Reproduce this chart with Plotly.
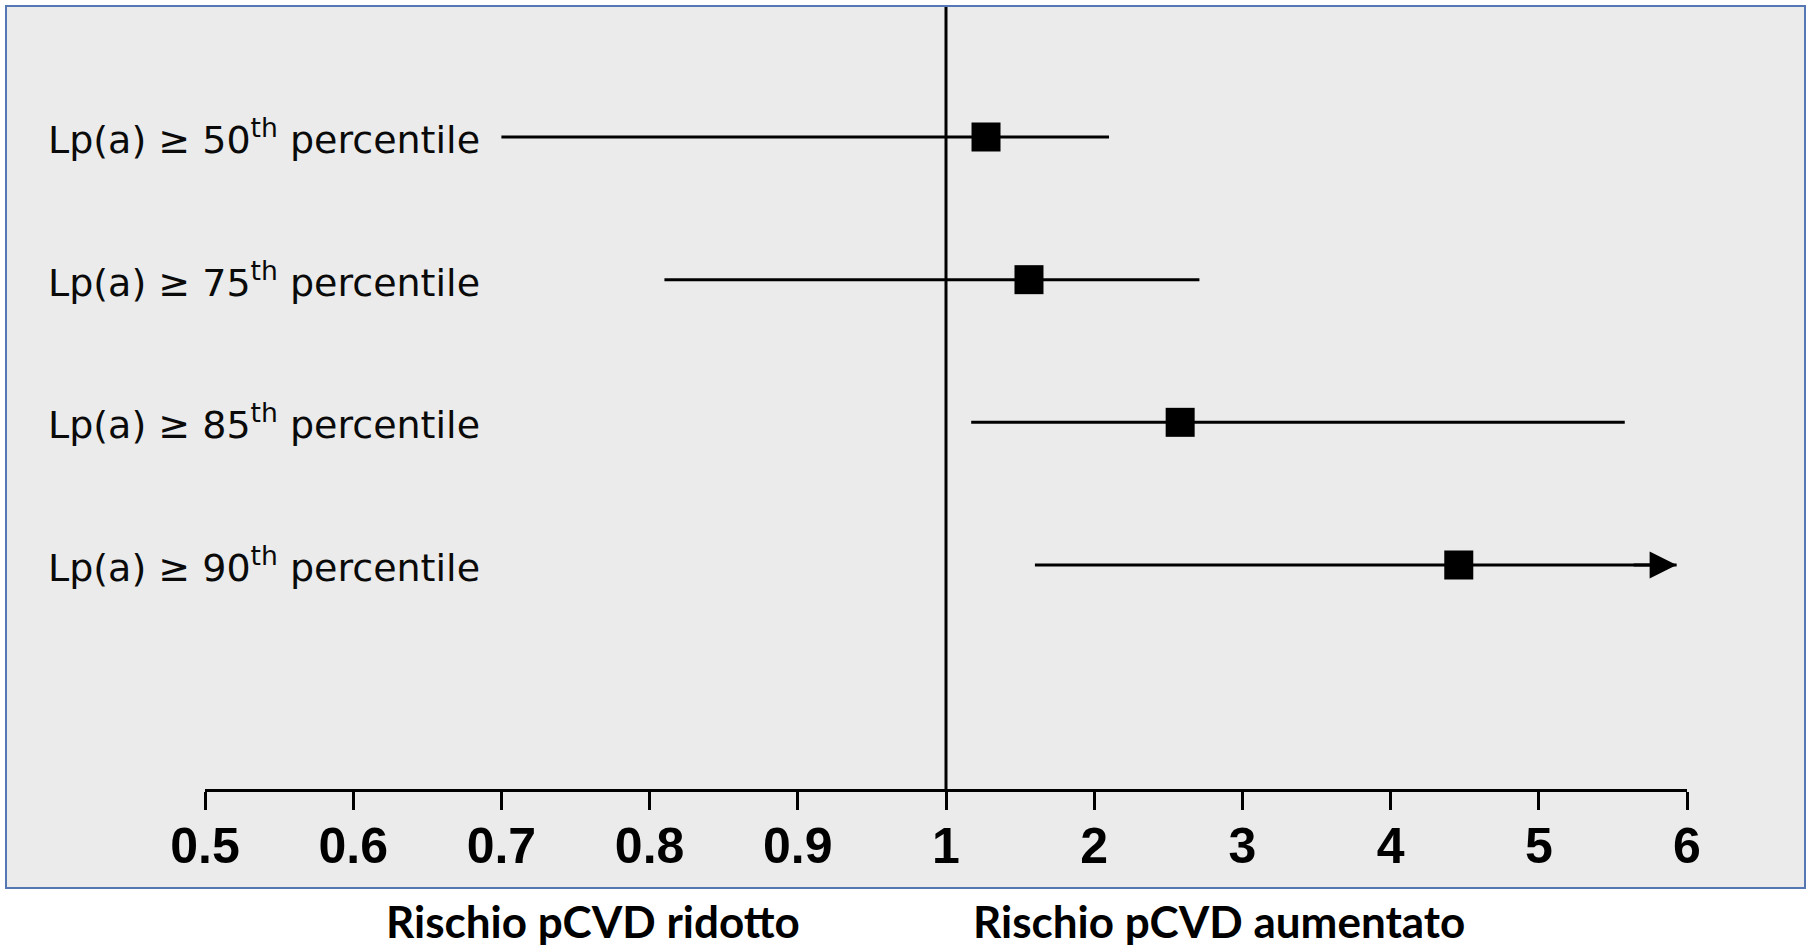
import plotly.graph_objects as go

# ---------------- data ----------------
row_labels = [
    "Lp(a) ≥ 50<sup>th</sup> percentile",
    "Lp(a) ≥ 75<sup>th</sup> percentile",
    "Lp(a) ≥ 85<sup>th</sup> percentile",
    "Lp(a) ≥ 90<sup>th</sup> percentile",
]
odds_ratio = [1.27, 1.56, 2.58, 4.46]
ci_lower = [0.70, 0.81, 1.17, 1.60]
ci_upper = [2.10, 2.71, 5.58, 5.93]
ci_open_ended = [False, False, False, True]

tick_values = [0.5, 0.6, 0.7, 0.8, 0.9, 1, 2, 3, 4, 5, 6]
tick_labels = ["0.5", "0.6", "0.7", "0.8", "0.9", "1", "2", "3", "4", "5", "6"]

bottom_left_text = "Rischio pCVD ridotto"
bottom_right_text = "Rischio pCVD aumentato"

# ---------------- layout constants ----------------
W, H = 1812, 947
ML, MR, MT, MB = 205, 125, 6, 158
PW = W - ML - MR
PH = H - MT - MB


def axis_pos(v):
    """Piecewise axis: 0.5..1 in steps of 0.1, then 1..6 in steps of 1 (equal spacing)."""
    if v <= 1:
        return (v - 0.5) / 0.1
    return 5 + (v - 1)


def px_x(p):
    return (p - ML) / PW


def px_y(p):
    return (H - MB - p) / PH


n = len(row_labels)
row_y = [n - i for i in range(n)]  # 4,3,2,1 top to bottom

pt = [axis_pos(v) for v in odds_ratio]
lo = [axis_pos(v) for v in ci_lower]
hi = [axis_pos(v) for v in ci_upper]

fig = go.Figure()

# CI lines
for i in range(n):
    fig.add_trace(go.Scatter(
        x=[lo[i], hi[i]], y=[row_y[i], row_y[i]], mode="lines",
        line=dict(color="black", width=3), hoverinfo="skip", showlegend=False,
        cliponaxis=False,
    ))

# point estimates
fig.add_trace(go.Scatter(
    x=pt, y=row_y, mode="markers",
    marker=dict(symbol="square", size=29, color="black", line=dict(width=0)),
    showlegend=False, cliponaxis=False,
))

annotations = []
# arrow heads for open-ended intervals
for i in range(n):
    if ci_open_ended[i]:
        annotations.append(dict(
            x=hi[i], y=row_y[i], xref="x", yref="y",
            ax=hi[i] - 0.3, ay=row_y[i], axref="x", ayref="y",
            text="", showarrow=True, arrowhead=2, arrowsize=1.8,
            arrowwidth=3, arrowcolor="black", standoff=0,
        ))

# row labels
for i in range(n):
    annotations.append(dict(
        x=px_x(46), y=row_y[i], xref="paper", yref="y",
        text=row_labels[i], showarrow=False, xanchor="left", yanchor="middle",
        font=dict(family="DejaVu Sans", size=38, color="#0a0a0a"),
    ))

# bottom captions
annotations.append(dict(
    x=px_x(593), y=px_y(921), xref="paper", yref="paper",
    text=bottom_left_text, showarrow=False, xanchor="center", yanchor="middle",
    font=dict(family="Lato", size=44, color="black", weight="bold"),
))
annotations.append(dict(
    x=px_x(1219), y=px_y(921), xref="paper", yref="paper",
    text=bottom_right_text, showarrow=False, xanchor="center", yanchor="middle",
    font=dict(family="Lato", size=44, color="black", weight="bold"),
))

shapes = [
    # grey framed panel
    dict(type="rect", xref="paper", yref="paper",
         x0=px_x(6), x1=px_x(1805), y0=px_y(888), y1=px_y(6),
         fillcolor="#EBEBEB", line=dict(color="#5578B4", width=2), layer="below"),
    # reference line at 1
    dict(type="line", xref="x", yref="paper",
         x0=axis_pos(1), x1=axis_pos(1), y0=0, y1=px_y(7),
         line=dict(color="black", width=3), layer="above"),
]

# y range so that rows land on their pixel rows (137 .. 565)
top_row_px, bottom_row_px = 137, 565
unit = (bottom_row_px - top_row_px) / (row_y[0] - row_y[-1])
y_min = row_y[-1] - ((H - MB) - bottom_row_px) / unit
y_max = row_y[0] + (top_row_px - MT) / unit

fig.update_layout(
    width=W, height=H,
    margin=dict(l=ML, r=MR, t=MT, b=MB, pad=0),
    paper_bgcolor="white",
    plot_bgcolor="rgba(0,0,0,0)",
    showlegend=False,
    annotations=annotations,
    shapes=shapes,
    xaxis=dict(
        range=[axis_pos(0.5), axis_pos(6)],
        tickvals=[axis_pos(v) for v in tick_values],
        ticktext=tick_labels,
        showline=True, linecolor="black", linewidth=3,
        ticks="outside", ticklen=18, tickwidth=3, tickcolor="black",
        showgrid=False, zeroline=False,
        tickfont=dict(family="Liberation Sans", size=50, color="black", weight="bold"),
        ticklabelstandoff=-7,
        fixedrange=True,
    ),
    yaxis=dict(
        range=[y_min, y_max],
        showgrid=False, zeroline=False, showticklabels=False, showline=False,
        ticks="", fixedrange=True,
    ),
)

fig.write_html(
    "out.html",
    config={"displayModeBar": False},
    post_script="document.body.style.margin='0';document.body.style.padding='0';",
)
